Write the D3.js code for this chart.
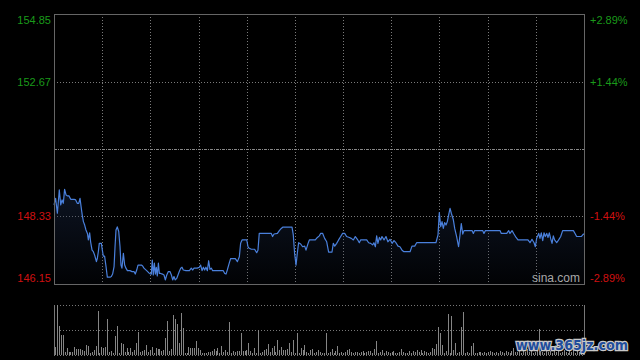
<!DOCTYPE html>
<html><head><meta charset="utf-8">
<script src="https://cdn.jsdelivr.net/npm/d3@7/dist/d3.min.js"></script>
<style>html,body{margin:0;padding:0;background:#000;}svg{display:block;}</style>
</head><body>
<svg id="c" width="640" height="360"></svg>
<script>
// ---- data (minutes from open, HK session 330 min) ----
const priceTimes = [0,1.0,2.1,3.3,4.2,5.0,5.8,6.6,7.5,8.3,9.3,10.4,12.5,13.5,14.5,15.4,16.2,17.0,17.6,18.3,19.1,19.9,20.8,21.4,22.2,22.8,23.7,24.5,25.3,26.4,27.0,27.6,28.2,29.5,30.1,30.7,31.5,32.4,33.2,34.9,35.7,36.5,37.4,38.0,38.6,39.4,40.3,41.1,41.7,42.3,43.2,44.0,44.8,45.7,47.3,48.6,49.8,50.6,51.5,52.3,54.4,55.2,56.0,57.7,59.4,60.6,61.2,61.8,62.5,63.1,63.7,64.3,65.0,65.6,66.4,67.5,68.5,69.3,70.2,71.2,72.2,73.1,73.9,74.7,75.5,76.4,77.2,78.0,78.9,79.7,80.5,82.2,84.3,85.5,86.3,87.2,89.2,90.5,91.3,92.2,93.0,93.8,94.6,95.5,96.3,97.1,98.0,98.8,101.3,105.4,106.3,107.1,107.9,109.2,110.0,112.9,114.2,115.4,116.2,117.1,120.0,120.8,121.6,122.9,124.9,126.2,127.0,127.8,134.1,135.3,136.1,137.0,139.1,140.3,141.5,142.4,148.2,149.0,149.8,150.7,151.5,152.3,153.6,154.8,156.1,156.9,158.2,159.0,162.7,164.0,165.2,166.0,167.3,168.5,169.8,171.0,173.1,173.9,174.8,176.0,177.2,178.5,179.7,181.0,182.2,183.9,185.1,186.4,187.6,188.9,190.1,190.9,194.7,195.9,197.2,198.4,199.2,200.1,200.9,201.7,202.6,203.4,204.2,205.5,206.7,207.9,209.2,210.5,211.7,212.9,214.2,215.4,216.7,217.9,221.7,222.9,224.6,225.8,237.8,239.1,239.9,240.8,241.6,242.4,243.2,244.1,244.9,245.7,246.6,247.4,248.6,249.5,250.7,251.9,252.8,253.6,254.5,255.3,260.3,261.1,261.9,266.9,267.7,268.6,277.7,278.5,281.9,283.1,283.9,285.2,286.4,287.7,288.9,295.1,296.4,297.6,298.9,299.7,300.5,301.8,302.6,303.4,304.3,305.1,305.9,306.8,307.6,308.4,309.2,310.1,310.9,311.7,313.0,314.2,315.5,316.7,323.4,324.6,325.4,328.3,329.6,330];
const prices = [148.70,148.91,148.43,149.18,148.70,148.86,148.75,149.20,149.02,148.99,148.99,148.88,148.88,148.86,148.75,148.75,148.91,148.59,148.37,148.16,148.05,147.89,147.78,147.57,147.80,147.51,147.24,147.19,147.08,146.87,146.98,147.19,147.46,147.46,147.24,147.05,147.05,146.71,146.37,146.37,146.39,146.47,146.71,147.35,147.89,147.99,147.84,147.35,146.76,146.66,147.14,146.76,146.66,146.58,146.58,146.55,146.55,146.47,146.60,146.76,146.76,146.73,146.66,146.58,146.49,146.47,146.92,146.44,146.82,146.47,146.69,146.41,146.82,146.49,146.49,146.47,146.44,146.28,146.44,146.55,146.55,146.44,146.28,146.39,146.28,146.33,146.44,146.55,146.66,146.69,146.60,146.58,146.58,146.66,146.60,146.66,146.66,146.69,146.76,146.58,146.69,146.60,146.69,146.58,146.90,146.62,146.66,146.58,146.58,146.58,146.49,146.47,146.60,146.84,146.97,146.97,146.87,147.03,147.46,147.57,147.57,147.35,147.30,147.27,147.27,147.16,147.24,147.78,147.78,147.78,147.68,147.76,147.78,147.87,147.94,147.98,147.98,147.73,147.14,146.76,147.14,147.48,147.44,147.35,147.37,147.24,147.46,147.57,147.57,147.65,147.70,147.78,147.78,147.62,147.51,147.18,147.18,147.46,147.37,147.46,147.57,147.68,147.78,147.78,147.68,147.65,147.62,147.57,147.68,147.59,147.48,147.57,147.57,147.48,147.46,147.41,147.48,147.35,147.70,147.46,147.65,147.57,147.68,147.57,147.68,147.51,147.59,147.46,147.55,147.48,147.37,147.35,147.24,147.19,147.19,147.37,147.37,147.48,147.48,147.73,148.45,148.00,148.16,147.94,148.13,148.05,148.16,148.37,148.59,148.43,148.23,147.94,147.68,147.35,147.73,148.10,147.76,147.87,147.87,147.78,147.87,147.87,147.78,147.87,147.87,147.78,147.78,147.87,147.78,147.87,147.76,147.65,147.57,147.57,147.48,147.59,147.48,147.35,147.62,147.78,147.62,147.80,147.55,147.80,147.68,147.78,147.65,147.80,147.62,147.46,147.70,147.57,147.48,147.57,147.68,147.87,147.87,147.76,147.68,147.68,147.76,147.76];
const volumes = [8,50,29,20,20,3,7,3,3,3,8,6,6,6,5,4,10,9,2,3,5,9,44,2,8,7,8,36,3,4,2,19,29,2,12,11,3,7,3,7,3,5,12,23,3,4,5,10,3,5,8,2,7,6,6,4,5,17,34,4,6,40,36,31,12,42,27,2,2,8,7,7,7,14,7,5,2,2,2,3,3,4,6,4,7,2,9,3,5,3,33,2,4,3,4,4,22,4,4,5,12,4,2,7,2,25,2,3,5,6,11,3,7,9,3,15,5,8,5,5,6,12,3,15,2,22,2,7,5,10,3,2,5,6,2,3,
 5,3,2,2,22,2,3,6,2,4,9,2,3,2,3,5,6,3,2,3,3,2,3,4,2,3,4,4,2,6,14,2,3,5,2,4,3,2,3,4,2,2,3,6,3,2,2,4,2,4,3,5,3,5,2,4,3,2,3,7,6,11,28,22,10,2,4,41,2,39,5,12,2,3,28,43,2,3,2,9,12,2,2,3,3,2,3,2,3,4,3,2,3,2,4,3,2,4,3,2,4,7,3,3,4,2,5,3,6,3,4,2,3,5,26,4,3,2,5,3,4,2,6,3,4,2,3,5,3,2,4,3,5,2,4,3,6,4];
const priceTicks = [146.15,148.33,150.50,152.67,154.85];
const leftLabels = ["146.15","148.33","","152.67","154.85"];
const rightLabels = ["-2.89%","-1.44%","","+1.44%","+2.89%"];
const prevClose = 150.50;
const timeTicks = [30,60,90,120,150,180,210,240,270,300];

// ---- layout ----
const L = 54, R = 584, T = 14, B = 284, VT = 305, VB = 355;
const svg = d3.select("#c");
svg.append("rect").attr("width",640).attr("height",360).attr("fill","#000");

const x = d3.scaleLinear().domain([0,330]).range([L,R]);
const y = d3.scaleLinear().domain([146.15,154.85]).range([B,T]);
const vy = d3.scaleLinear().domain([0,50]).range([VB,VT]);

const defs = svg.append("defs");
const grad = defs.append("linearGradient").attr("id","ag").attr("x1",0).attr("y1",0).attr("x2",0).attr("y2",1);
grad.append("stop").attr("offset","0%").attr("stop-color","#1c2c4c").attr("stop-opacity",0.45);
grad.append("stop").attr("offset","100%").attr("stop-color","#1c2c4c").attr("stop-opacity",0.06);

// vertical grid
const g = svg.append("g");
g.selectAll("line.v").data(timeTicks).join("line")
  .attr("x1",d=>Math.round(x(d))+0.5).attr("x2",d=>Math.round(x(d))+0.5)
  .attr("y1",T).attr("y2",B).attr("stroke","#7a7a7a").attr("stroke-dasharray","1,2");
// horizontal grid
g.selectAll("line.h").data(priceTicks.filter(d=>d!==prevClose && d!==146.15 && d!==154.85)).join("line")
  .attr("x1",L).attr("x2",R).attr("y1",d=>Math.round(y(d))+0.5).attr("y2",d=>Math.round(y(d))+0.5)
  .attr("stroke","#7a7a7a").attr("stroke-dasharray","1,2");
g.append("line").attr("x1",L).attr("x2",R).attr("y1",Math.round(y(prevClose))+0.5).attr("y2",Math.round(y(prevClose))+0.5)
  .attr("stroke","#888").attr("stroke-dasharray","3,1,1,1");

// area + line
const pts = priceTimes.map((t,i)=>[t,prices[i]]);
svg.append("path").datum(pts)
  .attr("d", d3.area().x(d=>x(d[0])).y0(B).y1(d=>y(d[1])))
  .attr("fill","url(#ag)");
svg.append("path").datum(pts)
  .attr("d", d3.line().x(d=>x(d[0])).y(d=>y(d[1])))
  .attr("fill","none").attr("stroke","#4a80dc").attr("stroke-width",1.2).attr("stroke-linejoin","round");

// border
svg.append("rect").attr("x",L+0.5).attr("y",T+0.5).attr("width",R-L).attr("height",B-T)
  .attr("fill","none").attr("stroke","#666");

// labels
const fnt = "'Liberation Sans', Arial, sans-serif";
const labY = d => d===154.85 ? y(d)+6 : (d===146.15 ? y(d)-6 : y(d));
svg.selectAll("text.l").data(priceTicks.map((d,i)=>({v:d,l:leftLabels[i],r:rightLabels[i]})).filter(d=>d.l)).join("text")
  .attr("x",51).attr("y",d=>labY(d.v)).attr("dy","0.35em").attr("text-anchor","end")
  .attr("font-family",fnt).attr("font-size",11)
  .attr("fill",d=>d.v>prevClose?"#1a9a1a":"#d01010").text(d=>d.l);
svg.selectAll("text.r").data(priceTicks.map((d,i)=>({v:d,l:leftLabels[i],r:rightLabels[i]})).filter(d=>d.r)).join("text")
  .attr("x",590).attr("y",d=>labY(d.v)).attr("dy","0.35em").attr("text-anchor","start")
  .attr("font-family",fnt).attr("font-size",11)
  .attr("fill",d=>d.v>prevClose?"#1a9a1a":"#d01010").text(d=>d.r);

svg.append("text").attr("x",532).attr("y",278).attr("dy","0.35em").attr("font-family",fnt)
  .attr("font-size",12).attr("fill","#a8a8a8").text("sina.com");

// volume panel
const vg = svg.append("g");
[VT, (VT+VB)/2, VB].forEach(yy=>{
  vg.append("line").attr("x1",L).attr("x2",R).attr("y1",Math.round(yy)+0.5).attr("y2",Math.round(yy)+0.5)
    .attr("stroke","#777").attr("stroke-dasharray","1,2");
});
vg.append("line").attr("x1",L+0.5).attr("x2",L+0.5).attr("y1",VT).attr("y2",VB).attr("stroke","#777");
vg.append("line").attr("x1",R+0.5).attr("x2",R+0.5).attr("y1",VT).attr("y2",VB).attr("stroke","#777");
const vx = d3.scaleLinear().domain([0,volumes.length-1]).range([x(0)+1,x(330)-1]);
vg.selectAll("rect.vb").data(volumes).join("rect")
  .attr("x",(d,i)=>Math.round(vx(i))).attr("width",1)
  .attr("y",d=>vy(d)).attr("height",d=>VB-vy(d)).attr("fill","#858585");

// overlay watermark
svg.append("text").attr("x",516).attr("y",345).attr("dy","0.35em")
  .attr("font-family","'DejaVu Sans', sans-serif").attr("font-weight","bold").attr("font-size",14)
  .attr("textLength",112).attr("lengthAdjust","spacingAndGlyphs")
  .attr("fill","#1f4d9c").attr("stroke","#c8c8c8").attr("stroke-width",2.5).attr("paint-order","stroke")
  .text("www.365jz.com");
</script>
</body></html>
